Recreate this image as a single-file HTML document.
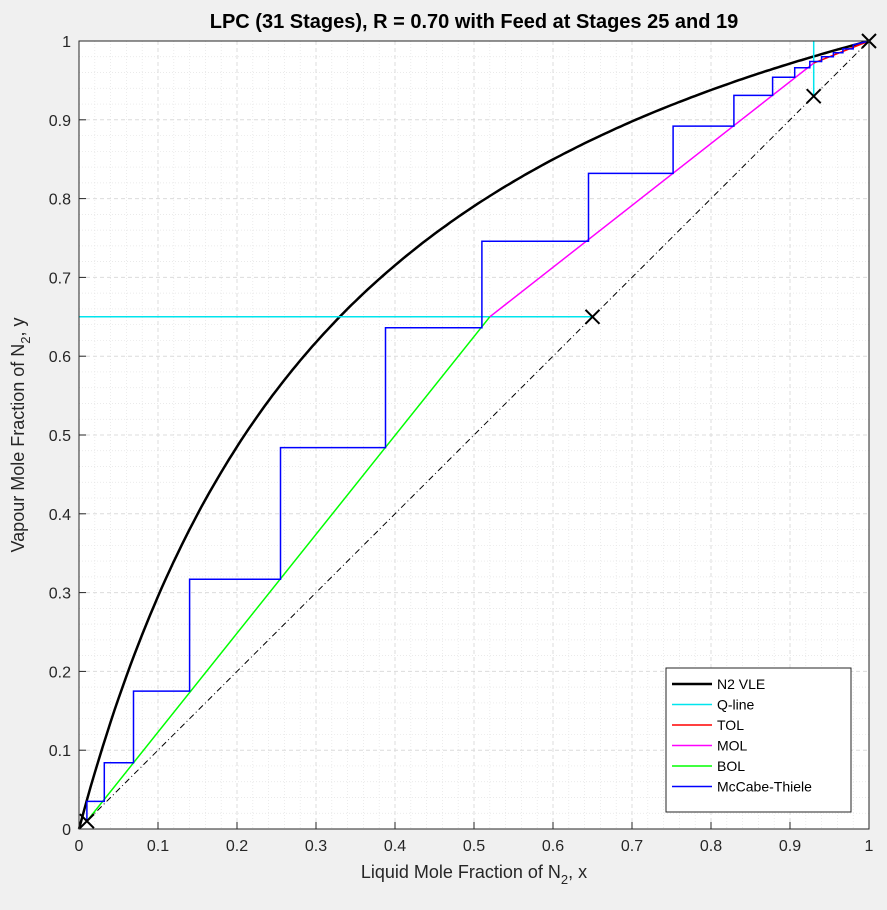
<!DOCTYPE html>
<html><head><meta charset="utf-8"><style>
body{margin:0;background:#f0f0f0;font-family:"Liberation Sans",sans-serif}
</style></head><body>
<svg id="c" width="887" height="905" xmlns="http://www.w3.org/2000/svg"></svg>
<script>
const ticks=[0,0.1,0.2,0.3,0.4,0.5,0.6,0.7,0.8,0.9,1];
const tickLabels=["0","0.1","0.2","0.3","0.4","0.5","0.6","0.7","0.8","0.9","1"];
const alpha=[3.77];
const stairX=[0.01,0.01,0.032,0.032,0.069,0.069,0.14,0.14,0.255,0.255,0.388,0.388,0.51,0.51,0.645,0.645,0.752,0.752,0.829,0.829,0.878,0.878,0.906,0.906,0.925,0.925,0.94,0.94,0.955,0.955,0.967,0.967,0.98,0.98,1];
const stairY=[0.01,0.035,0.035,0.084,0.084,0.175,0.175,0.317,0.317,0.484,0.484,0.636,0.636,0.746,0.746,0.832,0.832,0.892,0.892,0.931,0.931,0.954,0.954,0.966,0.966,0.974,0.974,0.98,0.98,0.985,0.985,0.99,0.99,0.995,1];
const bolX=[0.01,0.52],bolY=[0.01,0.65];
const molX=[0.52,0.93],molY=[0.65,0.972];
const tolX=[0.93,1],tolY=[0.972,1];
const qX=[0,0.65,null,0.93,0.93],qY=[0.65,0.65,null,0.93,1];
const markX=[0.01,0.65,0.93,1],markY=[0.01,0.65,0.93,1];
const L=79,R=869,T=41,B=829;
const sx=v=>L+(R-L)*v, sy=v=>B-(B-T)*v;
const svg=document.getElementById('c');const NS='http://www.w3.org/2000/svg';
function el(t,a,p){const e=document.createElementNS(NS,t);for(const k in a)e.setAttribute(k,a[k]);(p||svg).appendChild(e);return e;}
let bg=el('rect',{x:L,y:T,width:R-L,height:B-T,fill:'#fff'});


for(let i=1;i<50;i++){if(i%5==0)continue;const v=i/50;
el('line',{x1:sx(v),x2:sx(v),y1:T,y2:B,stroke:'#e4e4e4','stroke-dasharray':'1,2','stroke-width':0.7});
el('line',{y1:sy(v),y2:sy(v),x1:L,x2:R,stroke:'#e4e4e4','stroke-dasharray':'1,2','stroke-width':0.7});}
ticks.forEach((v,i)=>{
el('line',{x1:sx(v),x2:sx(v),y1:T,y2:B,stroke:'#dcdcdc','stroke-dasharray':'4,3'});
el('line',{y1:sy(v),y2:sy(v),x1:L,x2:R,stroke:'#dcdcdc','stroke-dasharray':'4,3'});
let t=el('text',{x:sx(v),y:B+22,'text-anchor':'middle','font-size':16,fill:'#262626'});t.textContent=tickLabels[i];


let u=el('text',{x:L-8,y:sy(v)+6,'text-anchor':'end','font-size':16,fill:'#262626'});u.textContent=tickLabels[i];


el('line',{x1:sx(v),x2:sx(v),y1:B,y2:B-7,stroke:'#262626'});
el('line',{x1:L,x2:L+7,y1:sy(v),y2:sy(v),stroke:'#262626'});
});
function poly(xs,ys,col,w,name,dash){let d='',m=true;for(let i=0;i<xs.length;i++){if(xs[i]===null){m=true;continue;}d+=(m?'M':'L')+sx(xs[i]).toFixed(1)+' '+sy(ys[i]).toFixed(1);m=false;}
const p=el('path',{d:d,fill:'none',stroke:col,'stroke-width':w});if(dash)p.setAttribute('stroke-dasharray',dash);

return p;}
poly([0,1],[0,1],'#000',1,'diagonal-line','6,3,1,3');
const vx=[],vy=[];for(let i=0;i<=200;i++){const x=i/200;vx.push(x);vy.push(alpha[0]*x/(1+(alpha[0]-1)*x));}
poly(vx,vy,'#000',2.5,'n2-vle-curve');
poly(qX,qY,'#00e5ee',1.5,'q-line');
poly(bolX,bolY,'#00ff00',1.5,'bol-line');
poly(molX,molY,'#ff00ff',1.5,'mol-line');
poly(tolX,tolY,'#ff0000',1.5,'tol-line');
poly(stairX,stairY,'#0000ff',1.5,'mccabe-thiele-steps');
markX.forEach((x,i)=>{const cx=sx(x),cy=sy(markY[i]);
const g=el('path',{d:`M${cx-7} ${cy-7}L${cx+7} ${cy+7}M${cx-7} ${cy+7}L${cx+7} ${cy-7}`,stroke:'#000','stroke-width':2});

});
el('rect',{x:L,y:T,width:R-L,height:B-T,fill:'none',stroke:'#262626'});
let ti=el('text',{x:474,y:28,'text-anchor':'middle','font-size':20,'font-weight':'bold',fill:'#000'});ti.textContent='LPC (31 Stages), R = 0.70 with Feed at Stages 25 and 19';


let xt=el('text',{x:474,y:878,'text-anchor':'middle','font-size':18,fill:'#262626'});xt.innerHTML='Liquid Mole Fraction of N<tspan dy="6" font-size="13">2</tspan><tspan dy="-6">, x</tspan>';


let yt=el('text',{x:0,y:0,'text-anchor':'middle','font-size':18,fill:'#262626',transform:'translate(24 435) rotate(-90)'});yt.innerHTML='Vapour Mole Fraction of N<tspan dy="6" font-size="13">2</tspan><tspan dy="-6">, y</tspan>';


const lg=el('g',{});


el('rect',{x:666,y:668,width:185,height:144,fill:'#fff',stroke:'#262626'},lg);
const ln=['N2 VLE','Q-line','TOL','MOL','BOL','McCabe-Thiele'],lc=['#000','#00e5ee','#ff0000','#ff00ff','#00ff00','#0000ff'];
ln.forEach((n,i)=>{const y=684+i*20.5;
el('line',{x1:672,x2:712,y1:y,y2:y,stroke:lc[i],'stroke-width':i==0?2.5:1.5},lg);
const t=el('text',{x:717,y:y+5,'font-size':14,fill:'#000'},lg);t.textContent=n;

});
</script>
</body></html>
